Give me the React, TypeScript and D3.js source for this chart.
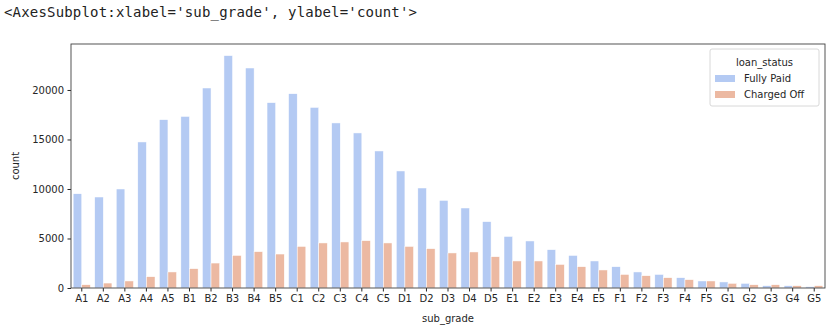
import React, { useEffect, useRef } from 'react';
import * as d3 from 'd3';

// sub grades on the x axis
const subGrades = [
  'A1', 'A2', 'A3', 'A4', 'A5', 'B1', 'B2', 'B3', 'B4', 'B5',
  'C1', 'C2', 'C3', 'C4', 'C5', 'D1', 'D2', 'D3', 'D4', 'D5',
  'E1', 'E2', 'E3', 'E4', 'E5', 'F1', 'F2', 'F3', 'F4', 'F5',
  'G1', 'G2', 'G3', 'G4', 'G5'
];

const fullyPaid = [
  9520, 9190, 10000, 14750, 17000, 17330, 20200, 23470, 22220, 18720,
  19620, 18240, 16670, 15660, 13840, 11820, 10100, 8850, 8080, 6700,
  5210, 4750, 3870, 3290, 2730, 2150, 1620, 1370, 1040, 710,
  610, 470, 230, 230, 130
];

const chargedOff = [
  330, 500, 710, 1140, 1620, 1950, 2520, 3290, 3670, 3430,
  4200, 4550, 4650, 4780, 4550, 4200, 3970, 3540, 3640, 3160,
  2730, 2730, 2380, 2150, 1820, 1370, 1240, 1040, 840, 710,
  470, 330, 330, 230, 230
];

const hueLevels = ['Fully Paid', 'Charged Off'];
const yTicks = [0, 5000, 10000, 15000, 20000];
const palette = ['#b4caf3', '#ecb9a2'];

const W = 835;
const H = 330;
const margin = { top: 44, right: 10, bottom: 42, left: 71 };

export default function App() {
  const svgRef = useRef<SVGSVGElement>(null);

  useEffect(() => {
    if (!svgRef.current) return;
    const svg = d3.select(svgRef.current);
    svg.selectAll('*').remove();

    const innerW = W - margin.left - margin.right;
    const innerH = H - margin.top - margin.bottom;

    const maxVal = d3.max([...fullyPaid, ...chargedOff]) as number;

    const x = d3.scaleBand<string>().domain(subGrades).range([0, innerW]).paddingInner(0.2).paddingOuter(0.1);
    const xOuter = d3.scaleBand<string>().domain(subGrades).range([0, innerW]);
    const xHue = d3.scaleBand<string>().domain(hueLevels).range([0, x.bandwidth()]);
    const y = d3.scaleLinear().domain([0, maxVal * 1.05]).range([innerH, 0]);

    // header text (notebook output)
    svg.append('text')
      .attr('x', 4)
      .attr('y', 17)
      .attr('font-family', '"DejaVu Sans Mono", monospace')
      .attr('font-size', '14px')
      .attr('textLength', 413)
      .attr('fill', '#222')
      .text("<AxesSubplot:xlabel='sub_grade', ylabel='count'>");

    const g = svg.append('g').attr('transform', `translate(${margin.left},${margin.top})`);

    const rows = subGrades.map((sg, i) => ({ sg, values: [fullyPaid[i], chargedOff[i]] }));

    // bars
    const groups = g.selectAll('.grp')
      .data(rows)
      .enter().append('g')
      .attr('transform', d => `translate(${x(d.sg)},0)`);

    groups.selectAll('rect')
      .data(d => d.values.map((v, k) => ({ key: hueLevels[k], v })))
      .enter().append('rect')
      .attr('x', d => xHue(d.key) as number)
      .attr('y', d => y(d.v))
      .attr('width', xHue.bandwidth())
      .attr('height', d => innerH - y(d.v))
      .attr('fill', (d, k) => palette[k])
      .attr('stroke', '#ffffff')
      .attr('stroke-width', 0.5);

    // axes
    const font = '"DejaVu Sans", sans-serif';
    const yAxis = g.append('g')
      .call(d3.axisLeft(y).tickValues(yTicks).tickSize(3.5).tickPadding(3.5).tickFormat(d3.format('d')));
    yAxis.select('.domain').remove();
    yAxis.selectAll('text').attr('font-family', font).attr('font-size', '10px').attr('fill', '#262626');
    yAxis.selectAll('line').attr('stroke', '#262626');

    const xAxis = g.append('g')
      .attr('transform', `translate(0,${innerH})`)
      .call(d3.axisBottom(xOuter).tickSize(3.5).tickPadding(3.5));
    xAxis.select('.domain').remove();
    xAxis.selectAll('text').attr('font-family', font).attr('font-size', '10px').attr('fill', '#262626');
    xAxis.selectAll('line').attr('stroke', '#262626');

    // spines
    g.append('rect')
      .attr('x', 0).attr('y', 0)
      .attr('width', innerW).attr('height', innerH)
      .attr('fill', 'none')
      .attr('stroke', '#404040')
      .attr('stroke-width', 0.9);

    // axis labels
    g.append('text')
      .attr('x', innerW / 2)
      .attr('y', innerH + 34)
      .attr('text-anchor', 'middle')
      .attr('font-family', font).attr('font-size', '10px').attr('fill', '#262626')
      .text('sub_grade');

    g.append('text')
      .attr('transform', `translate(-52,${innerH / 2}) rotate(-90)`)
      .attr('text-anchor', 'middle')
      .attr('font-family', font).attr('font-size', '10px').attr('fill', '#262626')
      .text('count');

    // legend
    const lg = svg.append('g').attr('transform', 'translate(710,49)');
    lg.append('rect')
      .attr('width', 109).attr('height', 57)
      .attr('rx', 2)
      .attr('fill', '#ffffff').attr('fill-opacity', 0.8)
      .attr('stroke', '#d8d8d8');
    lg.append('text')
      .attr('x', 54.5).attr('y', 17)
      .attr('text-anchor', 'middle')
      .attr('font-family', font).attr('font-size', '10px').attr('fill', '#262626')
      .text('loan_status');
    hueLevels.forEach((lvl, k) => {
      lg.append('rect')
        .attr('x', 5).attr('y', 26 + k * 16)
        .attr('width', 20).attr('height', 7)
        .attr('fill', palette[k]);
      lg.append('text')
        .attr('x', 34).attr('y', 33 + k * 16)
        .attr('font-family', font).attr('font-size', '10px').attr('fill', '#262626')
        .text(lvl);
    });
  }, []);

  return (
    <svg
      ref={svgRef}
      width={W}
      height={H}
      style={{ position: 'absolute', left: 0, top: 0, background: '#ffffff' }}
    />
  );
}
